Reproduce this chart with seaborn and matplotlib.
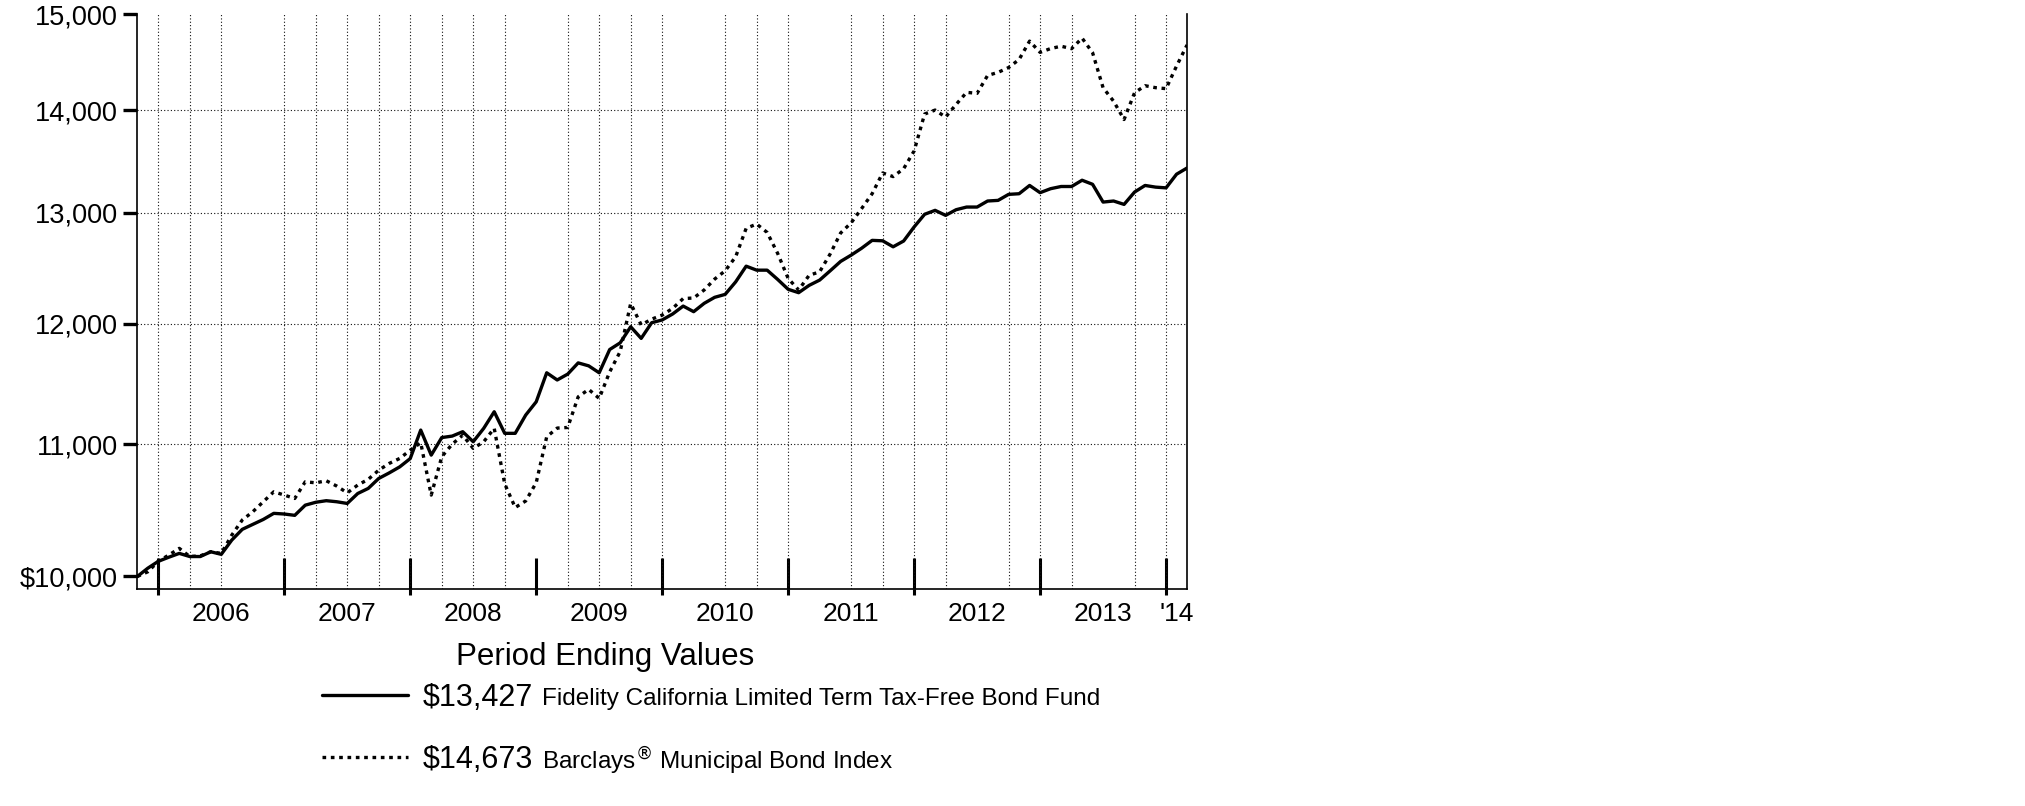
import pandas as pd
import seaborn as sns
import matplotlib.pyplot as plt
from matplotlib.ticker import NullLocator

sns.set_theme(style="white")
plt.rcParams['font.family'] = ['Liberation Sans', 'DejaVu Sans']
plt.rcParams['text.color'] = 'black'
plt.rcParams['xtick.color'] = 'black'
plt.rcParams['ytick.color'] = 'black'

# month index: 0 = Oct 2005 ... 100 = Feb 2014
fund = [10000, 10060, 10110, 10140, 10168, 10145, 10145, 10180, 10161, 10266,
        10346, 10383, 10420, 10466, 10461, 10451, 10528, 10550, 10562, 10554,
        10541, 10617, 10656, 10733, 10776, 10823, 10888, 11114, 10915, 11054,
        11066, 11101, 11021, 11128, 11262, 11088, 11088, 11235, 11343, 11583,
        11523, 11572, 11666, 11641, 11583, 11779, 11836, 11974, 11874, 12009,
        12033, 12085, 12154, 12105, 12178, 12231, 12257, 12368, 12509, 12473,
        12473, 12390, 12302, 12272, 12337, 12384, 12467, 12552, 12609, 12672,
        12744, 12740, 12685, 12738, 12868, 12986, 13023, 12976, 13029, 13054,
        13054, 13111, 13117, 13174, 13180, 13259, 13190, 13228, 13249, 13249,
        13309, 13270, 13101, 13111, 13079, 13196, 13259, 13243, 13236, 13367,
        13427]
index = [10000, 10034, 10110, 10156, 10205, 10145, 10150, 10180, 10168, 10303,
         10416, 10478, 10554, 10630, 10605, 10579, 10707, 10699, 10715, 10674,
         10622, 10682, 10726, 10797, 10850, 10889, 10954, 11013, 10605, 10902,
         11002, 11073, 10968, 11021, 11128, 10691, 10510, 10560, 10700, 11060,
         11130, 11135, 11384, 11445, 11371, 11590, 11762, 12177, 11990, 12040,
         12075, 12134, 12220, 12225, 12296, 12393, 12467, 12594, 12855, 12895,
         12817, 12625, 12399, 12296, 12427, 12458, 12619, 12812, 12906, 13040,
         13180, 13379, 13344, 13420, 13593, 13960, 14000, 13929, 14057, 14180,
         14170, 14354, 14386, 14436, 14520, 14714, 14595, 14635, 14660, 14634,
         14746, 14592, 14228, 14090, 13905, 14176, 14248, 14228, 14218, 14452,
         14673]
months = list(range(len(fund)))

year_bounds = [2, 14, 26, 38, 50, 62, 74, 86, 98]
year_mids = [8, 20, 32, 44, 56, 68, 80, 92, 99]
year_labels = ['2006', '2007', '2008', '2009', '2010', '2011', '2012', '2013', "'14"]
grid_months = [2, 5, 8, 14, 17, 20, 23, 26, 29, 32, 35, 41, 44, 47, 50, 56, 59,
               62, 68, 71, 74, 77, 83, 86, 89, 95, 98]
y_ticks = [10000, 11000, 12000, 13000, 14000, 15000]
y_labels = ['\\$10,000', '11,000', '12,000', '13,000', '14,000', '15,000']
grid_y = [11000, 12000, 13000, 14000]

fund_name = 'Fidelity California Limited Term Tax-Free Bond Fund'
index_name = 'Barclays$^{\u00ae}$ Municipal Bond Index'
fund_end = '\\$13,427'
index_end = '\\$14,673'

df = pd.DataFrame({'month': months, 'fund': fund, 'index': index})

fig = plt.figure(figsize=(20.25, 8.06), dpi=100)
ax = fig.add_axes([0.0678, 0.2692, 0.5184, 0.7129])

sns.lineplot(data=df, x='month', y='fund', color='black', lw=2.4, ax=ax)
sns.lineplot(data=df, x='month', y='index', color='black', lw=2.4,
             linestyle=(0, (1.1, 1.4)), ax=ax)

ax.set_yscale('log')
ax.set_ylim(9910, 15000)
ax.set_xlim(0, 100)
ax.set_yticks(y_ticks, y_labels)
ax.yaxis.set_minor_locator(NullLocator())
ax.set_xlabel('')
ax.set_ylabel('')

# year boundary ticks (inside) and quarter grid
ax.set_xticks(year_bounds, [''] * len(year_bounds))
ax.set_xticks(grid_months, minor=True)
ax.xaxis.remove_overlapping_locs = False
ax.tick_params(axis='x', which='major', direction='in', length=22.5, width=2.2,
               color='black', bottom=True)
ax.tick_params(axis='x', which='minor', length=0)
ax.tick_params(axis='y', which='major', direction='out', length=10, width=2.4,
               color='black', left=True, pad=4, labelsize=19.5)
ax.grid(False)
ax.grid(axis='x', which='minor', color='#111111', lw=0.8, linestyle=(0, (1, 2)))
for g in grid_y:
    ax.axhline(g, color='#111111', lw=0.8, linestyle=(0, (1, 2)), zorder=0)

stub = ax.secondary_xaxis('bottom')
stub.set_xticks(year_bounds, [''] * len(year_bounds))
stub.tick_params(direction='out', length=4, width=2.2, color='black')
stub.spines['bottom'].set_visible(False)

lab = ax.secondary_xaxis('bottom')
lab.set_xticks(year_mids, year_labels)
lab.tick_params(length=0, pad=9, labelsize=19)
lab.spines['bottom'].set_visible(False)

for s in ['left', 'bottom', 'right']:
    ax.spines[s].set_visible(True)
    ax.spines[s].set_color('black')
    ax.spines[s].set_linewidth(1.2)
ax.spines['top'].set_visible(False)

fig.text(0.299, 1 - 657 / 806, 'Period Ending Values', fontsize=22.5,
         ha='center', va='center')

lines = ax.get_lines()[:2]
fig.legend(lines, [fund_end, index_end], loc='upper left',
           bbox_to_anchor=(322 / 2025, 1 - 683 / 806), frameon=False,
           fontsize=22, handlelength=2.8, handletextpad=0.5,
           labelspacing=1.05, borderpad=0, borderaxespad=0)
fig.text(542 / 2025, 1 - 699 / 806, fund_name, fontsize=17.5, va='center')
fig.text(542 / 2025, 1 - 761 / 806, index_name, fontsize=17.5, va='center')

fig.savefig('out.png', dpi=100)
